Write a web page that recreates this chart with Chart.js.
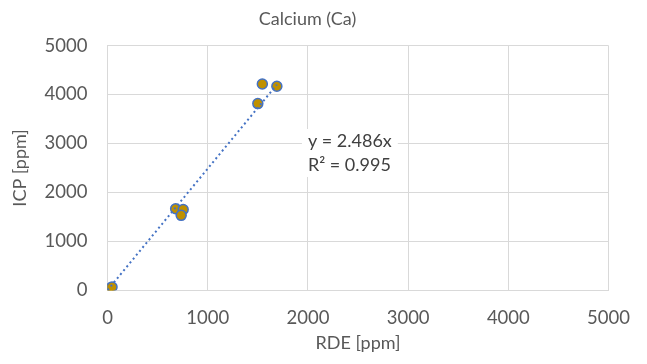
<!DOCTYPE html>
<html>
<head>
<meta charset="utf-8">
<script src="https://cdn.jsdelivr.net/npm/chart.js@4"></script>
<style>
  html, body { margin: 0; padding: 0; background: #fff; }
  #wrap { width: 647px; height: 364px; }
</style>
</head>
<body>
<div id="wrap"><canvas id="caChart"></canvas></div>
<script>
// Calcium scatter: RDE vs ICP with linear trendline through origin

const rdeValues = [5, 15, 30, 45, 680, 755, 735, 1500, 1545, 1690]
const icpValues = [10, 30, 45, 65, 1665, 1650, 1530, 3815, 4215, 4170]
const trendSlope = 2.486
const trendLabel = ['y = 2.486x', 'R² = 0.995']
const axisTicks = [0, 1000, 2000, 3000, 4000, 5000]

const points = rdeValues.map((x, i) => ({ x: x, y: icpValues[i] }))
const maxX = Math.max(...rdeValues)
const trend = [{ x: 0, y: 0 }, { x: maxX, y: trendSlope * maxX }]

const fontFam = 'Lato, "Open Sans", sans-serif'
const grey = '#595959'

// equation box, drawn like the Excel trendline label
const eqLabel = {
  id: 'eqLabel',
  afterDatasetsDraw(chart) {
    const c = chart.ctx
    const xs = chart.scales.x
    const ys = chart.scales.y
    const left = xs.getPixelForValue(2000)
    const y1 = ys.getPixelForValue(3050)
    const y2 = ys.getPixelForValue(2560)
    c.save()
    c.font = '18px ' + fontFam
    c.textBaseline = 'middle'
    c.textAlign = 'left'
    const w = Math.max(...trendLabel.map(t => c.measureText(t).width))
    c.fillStyle = '#fff'
    c.fillRect(left - 6, y1 - 12, w + 12, (y2 - y1) + 24)
    c.fillStyle = '#404040'
    c.fillText(trendLabel[0], left, y1)
    c.fillText(trendLabel[1], left, y2)
    c.restore()
  }
}

const ctx = document.getElementById('caChart').getContext('2d')
const caChart = new Chart(ctx, {
  type: 'scatter',
  data: {
    datasets: [
      {
        label: 'Trend',
        type: 'line',
        data: trend,
        borderColor: '#4472C4',
        borderWidth: 2,
        borderDash: [2, 3],
        pointRadius: 0,
        fill: false,
        order: 1
      },
      {
        label: 'Ca',
        data: points,
        backgroundColor: '#BF9000',
        borderColor: '#4472C4',
        borderWidth: 1.5,
        pointRadius: 5,
        order: 2
      }
    ]
  },
  options: {
    responsive: true,
    maintainAspectRatio: false,
    animation: false,
    layout: { padding: { left: 0, right: 32, top: 4, bottom: 2 } },
    plugins: {
      legend: { display: false },
      tooltip: { enabled: false },
      title: {
        display: true,
        text: 'Calcium (Ca)',
        color: grey,
        font: { family: fontFam, size: 18, weight: 'normal' },
        padding: { top: 4, bottom: 16 }
      }
    },
    scales: {
      x: {
        type: 'linear',
        min: 0,
        max: 5000,
        afterBuildTicks: (axis) => { axis.ticks = axisTicks.map(v => ({ value: v })) },
        grid: { color: '#d9d9d9', drawTicks: false },
        border: { color: '#d9d9d9' },
        ticks: { color: grey, font: { family: fontFam, size: 18.5 }, padding: 17, maxRotation: 0, callback: v => String(v) },
        title: { display: true, text: 'RDE [ppm]', color: grey, font: { family: fontFam, size: 18 }, padding: { top: -14, bottom: 8 } }
      },
      y: {
        type: 'linear',
        min: 0,
        max: 5000,
        afterBuildTicks: (axis) => { axis.ticks = axisTicks.map(v => ({ value: v })) },
        grid: { color: '#d9d9d9', drawTicks: false },
        border: { color: '#d9d9d9' },
        ticks: { color: grey, font: { family: fontFam, size: 18.5 }, padding: 20, callback: v => String(v) },
        title: { display: true, text: 'ICP [ppm]', color: grey, font: { family: fontFam, size: 18 }, padding: { top: 9, bottom: -6 } }
      }
    }
  },
  plugins: [eqLabel]
})
</script>
</body>
</html>
